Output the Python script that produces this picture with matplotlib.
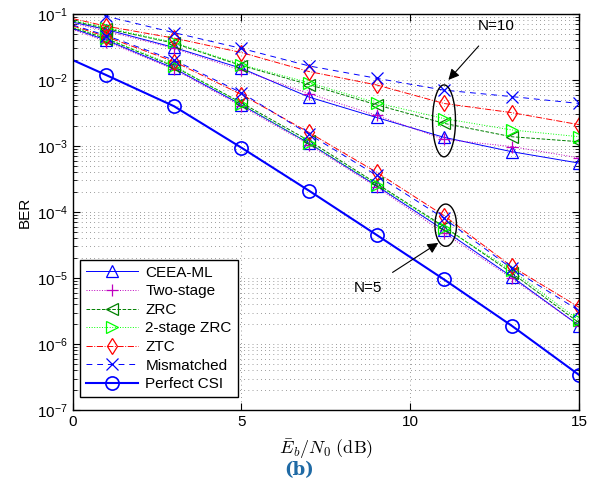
import numpy as np
import matplotlib
matplotlib.use("Agg")
import matplotlib.pyplot as plt

plt.rcParams['font.family'] = ['Liberation Sans', 'DejaVu Sans']
plt.rcParams['mathtext.fontset'] = 'cm'

# Eb/N0 (dB) -- first point has no marker
snr = [0, 1, 3, 5, 7, 9, 11, 13, 15]

# N = 10
ceea_10 = [0.075, 0.058, 0.031, 0.0150, 0.0055, 0.0027, 0.00135, 0.00082, 0.00055]
two_10 = [0.072, 0.055, 0.030, 0.0140, 0.0062, 0.0029, 0.00126, 0.00098, 0.00066]
zrc_10 = [0.078, 0.060, 0.036, 0.0165, 0.0085, 0.0042, 0.0022, 0.00138, 0.00116]
zrc2_10 = [0.080, 0.062, 0.037, 0.0170, 0.0091, 0.0045, 0.0026, 0.00175, 0.00138]
ztc_10 = [0.085, 0.065, 0.043, 0.026, 0.0134, 0.0084, 0.0044, 0.0032, 0.0021]
mis_10 = [0.12, 0.092, 0.052, 0.030, 0.0163, 0.0106, 0.0070, 0.0056, 0.0044]

# N = 5
ceea_5 = [0.060, 0.040, 0.0150, 0.0042, 0.00110, 2.5e-4, 5.3e-5, 1.05e-5, 1.9e-6]
two_5 = [0.058, 0.038, 0.0145, 0.0040, 0.00105, 2.4e-4, 4.8e-5, 1.0e-5, 1.9e-6]
zrc_5 = [0.062, 0.042, 0.0160, 0.0045, 0.00120, 2.7e-4, 6.0e-5, 1.2e-5, 2.1e-6]
zrc2_5 = [0.063, 0.043, 0.0165, 0.0043, 0.00110, 2.6e-4, 5.8e-5, 1.3e-5, 2.3e-6]
ztc_5 = [0.066, 0.045, 0.0190, 0.0060, 0.00160, 4.0e-4, 8.8e-5, 1.5e-5, 3.6e-6]
mis_5 = [0.068, 0.047, 0.0200, 0.0064, 0.00150, 3.6e-4, 8.0e-5, 1.4e-5, 3.2e-6]

perfect = [0.020, 0.0118, 0.0040, 9.4e-4, 2.1e-4, 4.5e-5, 9.5e-6, 1.9e-6, 3.4e-7]

fig = plt.figure(figsize=(5.98, 4.97), dpi=100)
ax = fig.add_axes([0.1216, 0.175, 0.8467, 0.797])

mk = slice(1, None)
lw = 0.7
ms = 8.5

styles = [
    ("CEEA-ML", ceea_10, ceea_5, dict(color='b', ls='-', marker='^')),
    ("Two-stage", two_10, two_5, dict(color='m', ls=':', marker='+')),
    ("ZRC", zrc_10, zrc_5, dict(color=(0, 0.5, 0), ls='--', marker='<')),
    ("2-stage ZRC", zrc2_10, zrc2_5, dict(color=(0, 1, 0), ls=':', marker='>')),
    ("ZTC", ztc_10, ztc_5, dict(color='r', ls='-.', marker='d')),
    ("Mismatched", mis_10, mis_5, dict(color='b', ls=(0, (6, 5)), marker='x')),
]

for name, y10, y5, st in styles:
    ax.plot(snr, y10, label=name, lw=lw, ms=ms, mfc='none', mew=0.9,
            markevery=mk, **st)
    ax.plot(snr, y5, lw=lw, ms=ms, mfc='none', mew=0.9, markevery=mk, **st)

ax.plot(snr, perfect, color='b', ls='-', marker='o', lw=1.5, ms=ms + 1,
        mfc='none', mew=1.2, markevery=mk, label='Perfect CSI')

ax.set_yscale('log')
ax.set_xlim(0, 15)
ax.set_ylim(1e-7, 1e-1)
ax.set_xticks([0, 5, 10, 15])
ax.set_yticks([10.0 ** k for k in range(-7, 0)])
ax.tick_params(which='both', direction='in', top=True, right=True,
               labelsize=11)
ax.tick_params(which='major', length=5)
ax.tick_params(which='minor', length=3)
ax.grid(True, which='major', color='0.25', ls=(0, (1, 5)), lw=0.5)
ax.grid(True, which='minor', axis='y', color='0.25', ls=(0, (1, 5)), lw=0.5)
for s in ax.spines.values():
    s.set_linewidth(1.0)

ax.set_xlabel(r'$\bar{E}_b/N_0\ \mathrm{(dB)}$', fontsize=13, labelpad=6)
ax.set_ylabel('BER', fontsize=11, labelpad=4)

# ellipses around the N=10 and N=5 groups (drawn in x / log-y space)
t = np.linspace(0, 2 * np.pi, 200)
ax.plot(11 + 0.34 * np.cos(t), 10 ** (-2.62 + 0.545 * np.sin(t)), 'k-', lw=1.0)
ax.plot(11.05 + 0.32 * np.cos(t), 10 ** (-4.2 + 0.32 * np.sin(t)), 'k-', lw=1.0)

ax.annotate('N=10', xy=(11.13, 0.0100), xytext=(12.56, 0.066),
            fontsize=11, ha='center', va='center',
            arrowprops=dict(arrowstyle='-|>', color='k', lw=0.8,
                            mutation_scale=16, shrinkA=10, shrinkB=0))
ax.annotate('N=5', xy=(10.83, 3.4e-5), xytext=(8.75, 7.0e-6),
            fontsize=11, ha='center', va='center',
            arrowprops=dict(arrowstyle='-|>', color='k', lw=0.8,
                            mutation_scale=16, shrinkA=8, shrinkB=0))

leg = ax.legend(loc='lower left', bbox_to_anchor=(0.014, 0.032),
                fontsize=11, handlelength=3.4, labelspacing=0.3,
                borderpad=0.4, handletextpad=0.5, fancybox=False,
                framealpha=1, edgecolor='k', borderaxespad=0)
leg.get_frame().set_linewidth(1.0)

fig.text(0.5, 0.055, '(b)', ha='center', va='center', fontsize=13,
         fontweight='bold', family='DejaVu Serif', color='#1f6aa5')

fig.savefig('out.png', dpi=100)
